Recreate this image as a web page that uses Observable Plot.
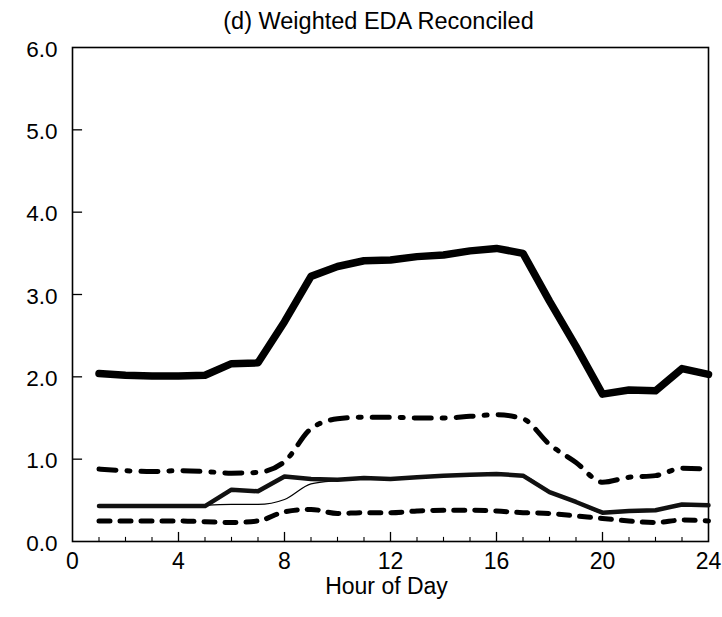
<!DOCTYPE html>
<html>
<head>
<meta charset="utf-8">
<script src="https://cdn.jsdelivr.net/npm/d3@7"></script>
<script src="https://cdn.jsdelivr.net/npm/@observablehq/plot@0.6"></script>
<style>
  body { margin: 0; background: #fff; }
  svg { font-family: "Liberation Sans", Arial, sans-serif; }
</style>
</head>
<body>
<div id="chart"></div>
<script>
const title = "(d) Weighted EDA Reconciled";
const xLabel = "Hour of Day";
const hours = [1,2,3,4,5,6,7,8,9,10,11,12,13,14,15,16,17,18,19,20,21,22,23,24];
const seriesA = [2.04,2.02,2.01,2.01,2.02,2.16,2.17,2.67,3.22,3.34,3.41,3.42,3.46,3.48,3.53,3.56,3.50,2.92,2.37,1.79,1.84,1.83,2.10,2.03];
const seriesB = [0.88,0.86,0.85,0.86,0.85,0.83,0.84,0.97,1.37,1.49,1.51,1.51,1.50,1.50,1.52,1.54,1.49,1.18,0.96,0.72,0.78,0.80,0.89,0.88];
const seriesC = [0.43,0.43,0.43,0.43,0.43,0.63,0.61,0.79,0.76,0.75,0.77,0.76,0.78,0.80,0.81,0.82,0.80,0.60,0.48,0.35,0.37,0.38,0.45,0.44];
const seriesD = [0.43,0.43,0.43,0.43,0.44,0.45,0.45,0.51,0.70,0.74,0.76,0.76,0.78,0.80,0.81,0.82,0.80,0.60,0.48,0.35,0.37,0.38,0.45,0.44];
const seriesE = [0.25,0.25,0.25,0.25,0.24,0.23,0.25,0.36,0.39,0.34,0.35,0.35,0.37,0.38,0.38,0.37,0.35,0.34,0.31,0.28,0.25,0.23,0.26,0.25];
const yTicks = [0,1,2,3,4,5,6];
const xTicks = [0,4,8,12,16,20,24];
const minorX = [1,2,3,5,6,7,9,10,11,13,14,15,17,18,19,21,22,23];

const toRows = (vals) => hours.map((h, i) => ({hour: h, value: vals[i]}));

const chart = Plot.plot({
  width: 722,
  height: 617,
  marginLeft: 72,
  marginRight: 14,
  marginTop: 47,
  marginBottom: 76,
  x: {domain: [0, 24], ticks: xTicks, label: null},
  y: {domain: [0, 6], ticks: yTicks, label: null},
  style: {fontFamily: "Liberation Sans, Arial, sans-serif", color: "#000", background: "#fff"},
  marks: [
    Plot.axisX(xTicks, {tickSize: 0, tickPadding: 11, fontSize: 23, tickFormat: d => String(d)}),
    Plot.axisY(yTicks, {tickSize: 0, tickPadding: 15, fontSize: 22.5, dy: 2, tickFormat: d => d.toFixed(1)}),
    Plot.text([xLabel], {frameAnchor: "bottom", dy: 36, dx: -4, fontSize: 23, lineAnchor: "top"}),
    Plot.text([title], {frameAnchor: "top", dy: -26, dx: -12, fontSize: 23.5, lineAnchor: "middle"}),
    Plot.ruleY(yTicks.slice(1, 6), {x1: 0, x2: 0.38, stroke: "#000", strokeWidth: 1.3}),
    Plot.ruleX(xTicks.slice(1, 6), {y1: 0, y2: 0.11, stroke: "#000", strokeWidth: 1.3}),
    Plot.ruleX(minorX, {y1: 0, y2: 0.05, stroke: "#000", strokeWidth: 1.1}),
    Plot.frame({stroke: "#000", strokeWidth: 1.6}),
    Plot.lineY(toRows(seriesE), {x: "hour", y: "value", stroke: "#000", strokeWidth: 5, strokeDasharray: "11,10", strokeLinecap: "round", curve: "monotone-x"}),
    Plot.lineY(toRows(seriesD), {x: "hour", y: "value", stroke: "#000", strokeWidth: 1.2, curve: "monotone-x"}),
    Plot.lineY(toRows(seriesC), {x: "hour", y: "value", stroke: "#111", strokeWidth: 4.5, strokeLinejoin: "round"}),
    Plot.lineY(toRows(seriesB), {x: "hour", y: "value", stroke: "#000", strokeWidth: 5, strokeDasharray: "17,11,3,11", strokeLinecap: "round", curve: "monotone-x"}),
    Plot.lineY(toRows(seriesA), {x: "hour", y: "value", stroke: "#000", strokeWidth: 7.5, strokeLinejoin: "round", strokeLinecap: "round"})
  ]
});
document.getElementById("chart").appendChild(chart);
</script>
</body>
</html>
